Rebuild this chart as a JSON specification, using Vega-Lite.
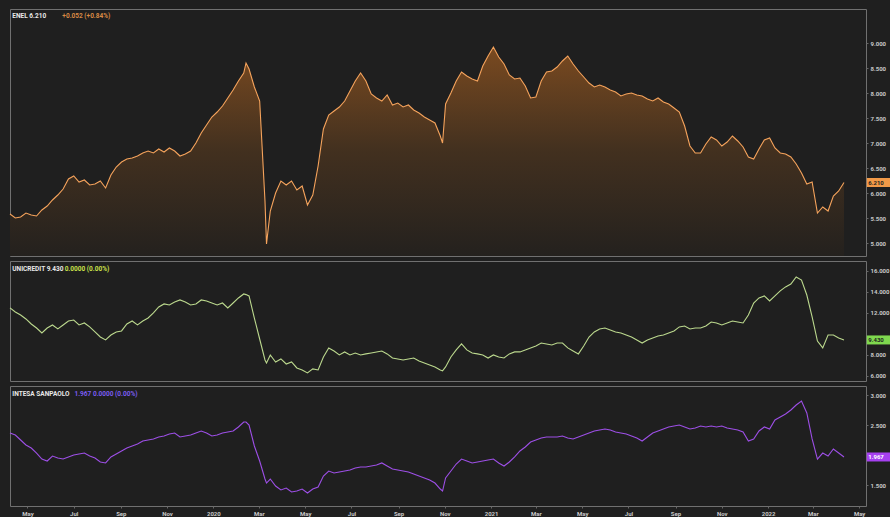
{
"$schema": "https://vega.github.io/schema/vega-lite/v6.json",
"background": "#1f1f1f",
"padding": {"left": 7, "top": 8, "right": 0, "bottom": 0},
"spacing": 3,
"config": {
  "view": {"stroke": "#707070", "strokeWidth": 1, "fill": "#1f1f1f"},
  "axis": {"labelFont": "Roboto", "labelFontSize": 6, "labelColor": "#c8c8c8", "tickColor": "#666666", "tickSize": 2, "labelPadding": 2, "domain": false, "grid": false, "labelFontWeight": "bold", "labelOverlap": false},
  "text": {"font": "Roboto"}
},
"datasets": {"px": [
{"date":"2019-04-08","enel":5.58,"ucg":12.48,"isp":2.367},
{"date":"2019-04-15","enel":5.50,"ucg":12.10,"isp":2.333},
{"date":"2019-04-22","enel":5.52,"ucg":11.81,"isp":2.25},
{"date":"2019-04-29","enel":5.60,"ucg":11.43,"isp":2.167},
{"date":"2019-05-06","enel":5.56,"ucg":10.95,"isp":2.117},
{"date":"2019-05-13","enel":5.54,"ucg":10.57,"isp":2.033},
{"date":"2019-05-20","enel":5.66,"ucg":10.10,"isp":1.933},
{"date":"2019-05-27","enel":5.74,"ucg":10.57,"isp":1.90},
{"date":"2019-06-03","enel":5.86,"ucg":10.86,"isp":1.983},
{"date":"2019-06-10","enel":5.96,"ucg":10.48,"isp":1.95},
{"date":"2019-06-17","enel":6.08,"ucg":10.86,"isp":1.933},
{"date":"2019-06-24","enel":6.28,"ucg":11.24,"isp":1.967},
{"date":"2019-07-01","enel":6.34,"ucg":11.33,"isp":2.0},
{"date":"2019-07-08","enel":6.22,"ucg":10.86,"isp":2.017},
{"date":"2019-07-15","enel":6.26,"ucg":11.05,"isp":2.033},
{"date":"2019-07-22","enel":6.16,"ucg":10.67,"isp":1.983},
{"date":"2019-07-29","enel":6.18,"ucg":10.19,"isp":1.95},
{"date":"2019-08-05","enel":6.24,"ucg":9.71,"isp":1.883},
{"date":"2019-08-12","enel":6.10,"ucg":9.43,"isp":1.867},
{"date":"2019-08-19","enel":6.36,"ucg":9.90,"isp":1.967},
{"date":"2019-08-26","enel":6.52,"ucg":10.19,"isp":2.017},
{"date":"2019-09-02","enel":6.62,"ucg":10.29,"isp":2.067},
{"date":"2019-09-09","enel":6.68,"ucg":10.95,"isp":2.117},
{"date":"2019-09-16","enel":6.70,"ucg":11.24,"isp":2.15},
{"date":"2019-09-23","enel":6.74,"ucg":10.86,"isp":2.183},
{"date":"2019-09-30","enel":6.80,"ucg":11.24,"isp":2.233},
{"date":"2019-10-07","enel":6.84,"ucg":11.52,"isp":2.25},
{"date":"2019-10-14","enel":6.80,"ucg":12.00,"isp":2.267},
{"date":"2019-10-21","enel":6.88,"ucg":12.57,"isp":2.30},
{"date":"2019-10-28","enel":6.82,"ucg":12.86,"isp":2.317},
{"date":"2019-11-04","enel":6.90,"ucg":12.76,"isp":2.35},
{"date":"2019-11-11","enel":6.84,"ucg":13.05,"isp":2.367},
{"date":"2019-11-18","enel":6.74,"ucg":13.24,"isp":2.30},
{"date":"2019-11-25","enel":6.78,"ucg":13.05,"isp":2.317},
{"date":"2019-12-02","enel":6.84,"ucg":12.76,"isp":2.333},
{"date":"2019-12-09","enel":7.00,"ucg":12.86,"isp":2.367},
{"date":"2019-12-16","enel":7.20,"ucg":13.24,"isp":2.40},
{"date":"2019-12-23","enel":7.36,"ucg":13.14,"isp":2.367},
{"date":"2019-12-30","enel":7.52,"ucg":12.95,"isp":2.317},
{"date":"2020-01-06","enel":7.62,"ucg":12.76,"isp":2.333},
{"date":"2020-01-13","enel":7.74,"ucg":12.95,"isp":2.367},
{"date":"2020-01-20","enel":7.90,"ucg":12.48,"isp":2.383},
{"date":"2020-01-27","enel":8.06,"ucg":12.95,"isp":2.40},
{"date":"2020-02-03","enel":8.24,"ucg":13.43,"isp":2.467},
{"date":"2020-02-10","enel":8.40,"ucg":13.81,"isp":2.55},
{"date":"2020-02-13","enel":8.60,"ucg":13.75,"isp":2.55},
{"date":"2020-02-17","enel":8.48,"ucg":13.62,"isp":2.50},
{"date":"2020-02-24","enel":8.12,"ucg":11.52,"isp":2.15},
{"date":"2020-03-02","enel":7.84,"ucg":9.52,"isp":1.90},
{"date":"2020-03-09","enel":5.84,"ucg":7.52,"isp":1.60},
{"date":"2020-03-11","enel":4.98,"ucg":7.24,"isp":1.533},
{"date":"2020-03-16","enel":5.64,"ucg":8.00,"isp":1.60},
{"date":"2020-03-23","enel":6.00,"ucg":7.33,"isp":1.483},
{"date":"2020-03-30","enel":6.24,"ucg":7.62,"isp":1.417},
{"date":"2020-04-06","enel":6.16,"ucg":7.14,"isp":1.45},
{"date":"2020-04-13","enel":6.24,"ucg":7.33,"isp":1.383},
{"date":"2020-04-20","enel":6.06,"ucg":6.76,"isp":1.40},
{"date":"2020-04-27","enel":6.14,"ucg":6.57,"isp":1.433},
{"date":"2020-05-04","enel":5.76,"ucg":6.29,"isp":1.367},
{"date":"2020-05-11","enel":5.96,"ucg":6.67,"isp":1.433},
{"date":"2020-05-18","enel":6.54,"ucg":6.57,"isp":1.467},
{"date":"2020-05-25","enel":7.28,"ucg":7.81,"isp":1.65},
{"date":"2020-06-01","enel":7.56,"ucg":8.67,"isp":1.733},
{"date":"2020-06-08","enel":7.64,"ucg":8.38,"isp":1.70},
{"date":"2020-06-15","enel":7.72,"ucg":8.00,"isp":1.717},
{"date":"2020-06-22","enel":7.84,"ucg":8.29,"isp":1.733},
{"date":"2020-06-29","enel":8.04,"ucg":8.00,"isp":1.75},
{"date":"2020-07-06","enel":8.24,"ucg":8.19,"isp":1.783},
{"date":"2020-07-13","enel":8.40,"ucg":8.00,"isp":1.80},
{"date":"2020-07-20","enel":8.24,"ucg":8.10,"isp":1.80},
{"date":"2020-07-27","enel":7.98,"ucg":8.19,"isp":1.817},
{"date":"2020-08-03","enel":7.90,"ucg":8.29,"isp":1.833},
{"date":"2020-08-10","enel":7.84,"ucg":8.38,"isp":1.867},
{"date":"2020-08-17","enel":7.96,"ucg":8.10,"isp":1.817},
{"date":"2020-08-24","enel":7.76,"ucg":7.71,"isp":1.767},
{"date":"2020-08-31","enel":7.80,"ucg":7.62,"isp":1.75},
{"date":"2020-09-07","enel":7.72,"ucg":7.52,"isp":1.733},
{"date":"2020-09-14","enel":7.76,"ucg":7.62,"isp":1.717},
{"date":"2020-09-21","enel":7.66,"ucg":7.71,"isp":1.683},
{"date":"2020-09-28","enel":7.60,"ucg":7.43,"isp":1.65},
{"date":"2020-10-05","enel":7.52,"ucg":7.24,"isp":1.617},
{"date":"2020-10-12","enel":7.46,"ucg":7.05,"isp":1.583},
{"date":"2020-10-19","enel":7.40,"ucg":6.86,"isp":1.533},
{"date":"2020-10-26","enel":7.14,"ucg":6.57,"isp":1.433},
{"date":"2020-10-29","enel":7.00,"ucg":6.48,"isp":1.40},
{"date":"2020-11-02","enel":7.78,"ucg":6.86,"isp":1.617},
{"date":"2020-11-09","enel":8.00,"ucg":7.81,"isp":1.733},
{"date":"2020-11-16","enel":8.24,"ucg":8.48,"isp":1.85},
{"date":"2020-11-23","enel":8.42,"ucg":9.05,"isp":1.933},
{"date":"2020-11-30","enel":8.34,"ucg":8.48,"isp":1.90},
{"date":"2020-12-07","enel":8.28,"ucg":8.19,"isp":1.867},
{"date":"2020-12-14","enel":8.24,"ucg":8.10,"isp":1.883},
{"date":"2020-12-21","enel":8.54,"ucg":8.00,"isp":1.90},
{"date":"2020-12-28","enel":8.74,"ucg":7.71,"isp":1.917},
{"date":"2021-01-04","enel":8.92,"ucg":8.00,"isp":1.933},
{"date":"2021-01-11","enel":8.72,"ucg":7.81,"isp":1.867},
{"date":"2021-01-18","enel":8.58,"ucg":7.71,"isp":1.817},
{"date":"2021-01-25","enel":8.36,"ucg":8.10,"isp":1.883},
{"date":"2021-02-01","enel":8.28,"ucg":8.29,"isp":1.967},
{"date":"2021-02-08","enel":8.30,"ucg":8.29,"isp":2.067},
{"date":"2021-02-15","enel":8.14,"ucg":8.48,"isp":2.133},
{"date":"2021-02-22","enel":7.90,"ucg":8.67,"isp":2.217},
{"date":"2021-03-01","enel":7.92,"ucg":8.86,"isp":2.25},
{"date":"2021-03-08","enel":8.24,"ucg":9.14,"isp":2.283},
{"date":"2021-03-15","enel":8.42,"ucg":9.05,"isp":2.30},
{"date":"2021-03-22","enel":8.44,"ucg":8.95,"isp":2.30},
{"date":"2021-03-29","enel":8.52,"ucg":9.14,"isp":2.30},
{"date":"2021-04-05","enel":8.64,"ucg":9.14,"isp":2.317},
{"date":"2021-04-12","enel":8.74,"ucg":8.67,"isp":2.283},
{"date":"2021-04-19","enel":8.58,"ucg":8.38,"isp":2.267},
{"date":"2021-04-26","enel":8.44,"ucg":8.10,"isp":2.30},
{"date":"2021-05-03","enel":8.32,"ucg":8.86,"isp":2.333},
{"date":"2021-05-10","enel":8.20,"ucg":9.71,"isp":2.367},
{"date":"2021-05-17","enel":8.12,"ucg":10.19,"isp":2.40},
{"date":"2021-05-24","enel":8.16,"ucg":10.48,"isp":2.417},
{"date":"2021-05-31","enel":8.12,"ucg":10.57,"isp":2.433},
{"date":"2021-06-07","enel":8.06,"ucg":10.38,"isp":2.417},
{"date":"2021-06-14","enel":8.02,"ucg":10.19,"isp":2.383},
{"date":"2021-06-21","enel":7.94,"ucg":10.10,"isp":2.367},
{"date":"2021-06-28","enel":7.98,"ucg":9.90,"isp":2.35},
{"date":"2021-07-05","enel":8.00,"ucg":9.71,"isp":2.317},
{"date":"2021-07-12","enel":7.96,"ucg":9.43,"isp":2.283},
{"date":"2021-07-19","enel":7.94,"ucg":9.14,"isp":2.233},
{"date":"2021-07-26","enel":7.88,"ucg":9.43,"isp":2.30},
{"date":"2021-08-02","enel":7.84,"ucg":9.62,"isp":2.367},
{"date":"2021-08-09","enel":7.90,"ucg":9.81,"isp":2.40},
{"date":"2021-08-16","enel":7.82,"ucg":9.90,"isp":2.433},
{"date":"2021-08-23","enel":7.78,"ucg":10.10,"isp":2.467},
{"date":"2021-08-30","enel":7.70,"ucg":10.29,"isp":2.483},
{"date":"2021-09-06","enel":7.62,"ucg":10.67,"isp":2.50},
{"date":"2021-09-13","enel":7.34,"ucg":10.76,"isp":2.467},
{"date":"2021-09-20","enel":6.94,"ucg":10.48,"isp":2.433},
{"date":"2021-09-27","enel":6.80,"ucg":10.57,"isp":2.45},
{"date":"2021-10-04","enel":6.80,"ucg":10.57,"isp":2.483},
{"date":"2021-10-11","enel":6.98,"ucg":10.76,"isp":2.467},
{"date":"2021-10-18","enel":7.12,"ucg":11.14,"isp":2.483},
{"date":"2021-10-25","enel":7.06,"ucg":11.05,"isp":2.467},
{"date":"2021-11-01","enel":6.94,"ucg":10.86,"isp":2.483},
{"date":"2021-11-08","enel":7.02,"ucg":11.05,"isp":2.45},
{"date":"2021-11-15","enel":7.14,"ucg":11.24,"isp":2.433},
{"date":"2021-11-22","enel":7.04,"ucg":11.14,"isp":2.417},
{"date":"2021-11-29","enel":6.92,"ucg":11.05,"isp":2.383},
{"date":"2021-12-06","enel":6.72,"ucg":11.81,"isp":2.233},
{"date":"2021-12-13","enel":6.68,"ucg":12.95,"isp":2.267},
{"date":"2021-12-20","enel":6.88,"ucg":13.43,"isp":2.40},
{"date":"2021-12-27","enel":7.06,"ucg":13.62,"isp":2.467},
{"date":"2022-01-03","enel":7.10,"ucg":13.14,"isp":2.433},
{"date":"2022-01-10","enel":6.90,"ucg":13.62,"isp":2.583},
{"date":"2022-01-17","enel":6.80,"ucg":14.10,"isp":2.633},
{"date":"2022-01-24","enel":6.78,"ucg":14.48,"isp":2.683},
{"date":"2022-01-31","enel":6.72,"ucg":14.76,"isp":2.75},
{"date":"2022-02-07","enel":6.58,"ucg":15.43,"isp":2.833},
{"date":"2022-02-14","enel":6.40,"ucg":15.14,"isp":2.90},
{"date":"2022-02-21","enel":6.18,"ucg":13.71,"isp":2.70},
{"date":"2022-02-28","enel":6.22,"ucg":11.62,"isp":2.267},
{"date":"2022-03-07","enel":5.60,"ucg":9.33,"isp":1.933},
{"date":"2022-03-14","enel":5.72,"ucg":8.67,"isp":2.033},
{"date":"2022-03-21","enel":5.64,"ucg":9.90,"isp":1.983},
{"date":"2022-03-28","enel":5.94,"ucg":9.90,"isp":2.10},
{"date":"2022-04-04","enel":6.04,"ucg":9.62,"isp":2.033},
{"date":"2022-04-11","enel":6.21,"ucg":9.43,"isp":1.967}
]},
"vconcat": [
{
  "width": 856, "height": 247,
  "layer": [
    {"data": {"name": "px"},
     "mark": {"type": "area", "clip": true, "color": {"gradient": "linear", "x1": 0, "y1": 0, "x2": 0, "y2": 1, "stops": [{"offset": 0, "color": "#7a4a20"}, {"offset": 0.5, "color": "#42301f"}, {"offset": 1, "color": "#24211e"}]}},
     "encoding": {
       "x": {"field": "date", "type": "temporal", "scale": {"domain": [{"year": 2019, "month": 4, "date": 8}, {"year": 2022, "month": 5, "date": 10}]}, "axis": null},
       "y": {"field": "enel", "type": "quantitative", "scale": {"domain": [4.74, 9.68], "nice": false, "zero": false}, "axis": {"orient": "right", "values": [5, 5.5, 6, 6.5, 7, 7.5, 8, 8.5, 9], "tickCount": 30, "format": ".3f", "title": null, "labelOverlap": false}},
       "y2": {"datum": 4.74}
     }},
    {"data": {"name": "px"},
     "mark": {"type": "line", "color": "#f5a35c", "strokeWidth": 1.1},
     "encoding": {
       "x": {"field": "date", "type": "temporal"},
       "y": {"field": "enel", "type": "quantitative", "axis": {"orient": "right", "values": [5, 5.5, 6, 6.5, 7, 7.5, 8, 8.5, 9], "tickCount": 30, "format": ".3f", "title": null, "labelOverlap": false}}
     }},
    {"data": {"values": [{}]},
     "mark": {"type": "rule", "color": "#f29a48", "strokeWidth": 9},
     "encoding": {
       "x": {"datum": {"year": 2022, "month": 5, "date": 11}, "type": "temporal"},
       "x2": {"datum": {"year": 2022, "month": 6, "date": 12}},
       "y": {"datum": 6.21, "type": "quantitative"}
     }},
    {"data": {"values": [{}]},
     "mark": {"type": "text", "align": "left", "baseline": "middle", "fontSize": 6, "fontWeight": "bold", "color": "#1f1f1f"},
     "encoding": {
       "x": {"datum": {"year": 2022, "month": 5, "date": 13}, "type": "temporal"},
       "y": {"datum": 6.21, "type": "quantitative"},
       "text": {"value": "6.210"}
     }},
    {"data": {"values": [{}]},
     "mark": {"type": "text", "align": "left", "baseline": "middle", "fontSize": 6.5, "fontWeight": "bold", "color": "#e8e8e8"},
     "encoding": {
       "x": {"datum": {"year": 2019, "month": 4, "date": 11}, "type": "temporal"},
       "y": {"datum": 9.54, "type": "quantitative"},
       "text": {"value": "ENEL  6.210"}
     }},
    {"data": {"values": [{}]},
     "mark": {"type": "text", "align": "left", "baseline": "middle", "fontSize": 6.5, "fontWeight": "bold", "color": "#d98a45"},
     "encoding": {
       "x": {"datum": {"year": 2019, "month": 6, "date": 16}, "type": "temporal"},
       "y": {"datum": 9.54, "type": "quantitative"},
       "text": {"value": "+0.052 (+0.84%)"}
     }}
  ]
},
{
  "width": 856, "height": 120,
  "layer": [
    {"data": {"name": "px"},
     "mark": {"type": "line", "color": "#bcd98e", "strokeWidth": 1.1},
     "encoding": {
       "x": {"field": "date", "type": "temporal", "scale": {"domain": [{"year": 2019, "month": 4, "date": 8}, {"year": 2022, "month": 5, "date": 10}]}, "axis": null},
       "y": {"field": "ucg", "type": "quantitative", "scale": {"domain": [5.52, 16.95], "nice": false, "zero": false}, "axis": {"orient": "right", "values": [6, 8, 12, 14, 16], "tickCount": 30, "format": ".3f", "title": null, "labelOverlap": false}}
     }},
    {"data": {"values": [{}]},
     "mark": {"type": "rule", "color": "#7fd84e", "strokeWidth": 9},
     "encoding": {
       "x": {"datum": {"year": 2022, "month": 5, "date": 11}, "type": "temporal"},
       "x2": {"datum": {"year": 2022, "month": 6, "date": 12}},
       "y": {"datum": 9.43, "type": "quantitative"}
     }},
    {"data": {"values": [{}]},
     "mark": {"type": "text", "align": "left", "baseline": "middle", "fontSize": 6, "fontWeight": "bold", "color": "#1f1f1f"},
     "encoding": {
       "x": {"datum": {"year": 2022, "month": 5, "date": 13}, "type": "temporal"},
       "y": {"datum": 9.43, "type": "quantitative"},
       "text": {"value": "9.430"}
     }},
    {"data": {"values": [{}]},
     "mark": {"type": "text", "align": "left", "baseline": "middle", "fontSize": 6.5, "fontWeight": "bold", "color": "#e8e8e8"},
     "encoding": {
       "x": {"datum": {"year": 2019, "month": 4, "date": 11}, "type": "temporal"},
       "y": {"datum": 16.19, "type": "quantitative"},
       "text": {"value": "UNICREDIT  9.430"}
     }},
    {"data": {"values": [{}]},
     "mark": {"type": "text", "align": "left", "baseline": "middle", "fontSize": 6.5, "fontWeight": "bold", "color": "#c9e04a"},
     "encoding": {
       "x": {"datum": {"year": 2019, "month": 6, "date": 19}, "type": "temporal"},
       "y": {"datum": 16.19, "type": "quantitative"},
       "text": {"value": "0.0000 (0.00%)"}
     }}
  ]
},
{
  "width": 856, "height": 120,
  "layer": [
    {"data": {"name": "px"},
     "mark": {"type": "line", "color": "#9d4fe6", "strokeWidth": 1.1},
     "encoding": {
       "x": {"field": "date", "type": "temporal", "scale": {"domain": [{"year": 2019, "month": 4, "date": 8}, {"year": 2022, "month": 5, "date": 10}]},
             "axis": {"title": null, "values": [{"year": 2019, "month": 5, "date": 1}, {"year": 2019, "month": 7, "date": 1}, {"year": 2019, "month": 9, "date": 1}, {"year": 2019, "month": 11, "date": 1}, {"year": 2020, "month": 1, "date": 1}, {"year": 2020, "month": 3, "date": 1}, {"year": 2020, "month": 5, "date": 1}, {"year": 2020, "month": 7, "date": 1}, {"year": 2020, "month": 9, "date": 1}, {"year": 2020, "month": 11, "date": 1}, {"year": 2021, "month": 1, "date": 1}, {"year": 2021, "month": 3, "date": 1}, {"year": 2021, "month": 5, "date": 1}, {"year": 2021, "month": 7, "date": 1}, {"year": 2021, "month": 9, "date": 1}, {"year": 2021, "month": 11, "date": 1}, {"year": 2022, "month": 1, "date": 1}, {"year": 2022, "month": 3, "date": 1}, {"year": 2022, "month": 5, "date": 1}],
                      "tickCount": 40,
                      "labelExpr": "month(datum.value) == 0 ? timeFormat(datum.value, '%Y') : timeFormat(datum.value, '%b')",
                      "labelFlush": false, "labelOverlap": false, "labelPadding": 2, "tickSize": 2}},
       "y": {"field": "isp", "type": "quantitative", "scale": {"domain": [1.15, 3.15], "nice": false, "zero": false}, "axis": {"orient": "right", "values": [1.5, 2.5, 3.0], "tickCount": 30, "format": ".3f", "title": null, "labelOverlap": false}}
     }},
    {"data": {"values": [{}]},
     "mark": {"type": "rule", "color": "#a640f0", "strokeWidth": 9},
     "encoding": {
       "x": {"datum": {"year": 2022, "month": 5, "date": 11}, "type": "temporal"},
       "x2": {"datum": {"year": 2022, "month": 6, "date": 12}},
       "y": {"datum": 1.967, "type": "quantitative"}
     }},
    {"data": {"values": [{}]},
     "mark": {"type": "text", "align": "left", "baseline": "middle", "fontSize": 6, "fontWeight": "bold", "color": "#ffffff"},
     "encoding": {
       "x": {"datum": {"year": 2022, "month": 5, "date": 13}, "type": "temporal"},
       "y": {"datum": 1.967, "type": "quantitative"},
       "text": {"value": "1.967"}
     }},
    {"data": {"values": [{}]},
     "mark": {"type": "text", "align": "left", "baseline": "middle", "fontSize": 6.5, "fontWeight": "bold", "color": "#e8e8e8"},
     "encoding": {
       "x": {"datum": {"year": 2019, "month": 4, "date": 11}, "type": "temporal"},
       "y": {"datum": 3.02, "type": "quantitative"},
       "text": {"value": "INTESA SANPAOLO"}
     }},
    {"data": {"values": [{}]},
     "mark": {"type": "text", "align": "left", "baseline": "middle", "fontSize": 6.5, "fontWeight": "bold", "color": "#7a5cf0"},
     "encoding": {
       "x": {"datum": {"year": 2019, "month": 7, "date": 2}, "type": "temporal"},
       "y": {"datum": 3.02, "type": "quantitative"},
       "text": {"value": "1.967  0.0000 (0.00%)"}
     }}
  ]
}
]
}
